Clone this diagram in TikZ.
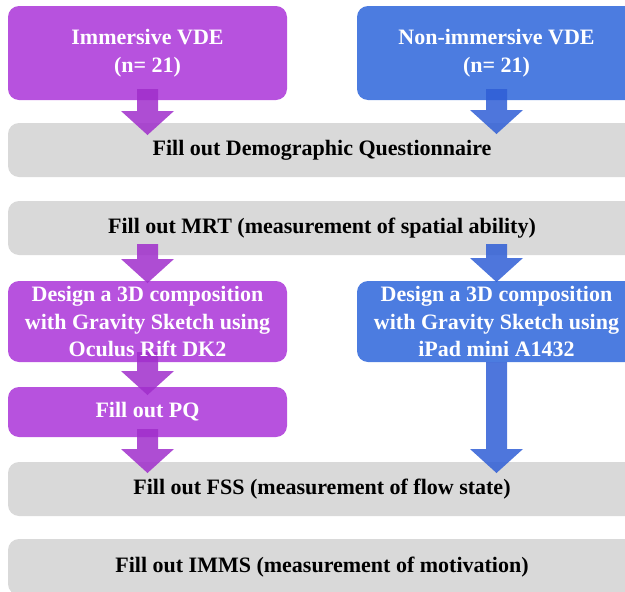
\documentclass[tikz,border=0pt]{standalone}
\usepackage{fontspec}
\setmainfont{Liberation Serif}
\usetikzlibrary{calc}
\pgfdeclarelayer{bg}
\pgfdeclarelayer{mid}
\pgfsetlayers{bg,mid,main}
\definecolor{purp}{HTML}{B752DE}
\definecolor{purparrow}{HTML}{A02ECB}
\definecolor{blu}{HTML}{4C7CE0}
\definecolor{bluarrow}{HTML}{2F5ED6}
\definecolor{graybar}{HTML}{D9D9D9}
\tikzset{
  box/.style={inner sep=0pt, outer sep=0pt, align=center, font=\fontsize{22}{27.5}\selectfont\bfseries},
  colbox/.style={box, text=white, minimum width=279pt},
  graybox/.style={box, text=black, minimum width=628pt},
  parrowstyle/.style={fill=purparrow, fill opacity=0.85},
  barrowstyle/.style={fill=bluarrow, fill opacity=0.85}
}
% #1 source node, #2 target node, #3 column node, #4 style, #5 shaft start inset, #6 tip inset
\newcommand\bigarrow[6]{%
  \fill[#4] let \p1=(#1.south), \p2=(#2.north), \p3=(#3.center) in
    (\x3-10.5pt,\y1+#5) -- (\x3+10.5pt,\y1+#5) -- (\x3+10.5pt,\y2-#6+24pt)
    -- (\x3+26.5pt,\y2-#6+24pt) -- (\x3,\y2-#6) -- (\x3-26.5pt,\y2-#6+24pt)
    -- (\x3-10.5pt,\y2-#6+24pt) -- cycle;}
\begin{document}
\begin{tikzpicture}[x=1pt,y=-1pt]
\useasboundingbox (0,0) rectangle (625,592);
\node[colbox, minimum height=94pt] (imm) at (147.5,53) {Immersive VDE\\(n= 21)};
\node[colbox, minimum height=94pt] (non) at (496.5,53) {Non-immersive VDE\\(n= 21)};
\node[graybox, minimum height=54pt] (demo) at (322,150) {Fill out Demographic Questionnaire};
\node[graybox, minimum height=54pt] (mrt) at (322,228) {Fill out MRT (measurement of spatial ability)};
\node[colbox, minimum height=81pt] (dimm) at (147.5,321.5) {Design a 3D composition\\with Gravity Sketch using\\Oculus Rift DK2};
\node[colbox, minimum height=81pt] (dnon) at (496.5,321.5) {Design a 3D composition\\with Gravity Sketch using\\iPad mini A1432};
\node[colbox, minimum height=50pt] (pq) at (147.5,412) {Fill out PQ};
\node[graybox, minimum height=54pt] (fss) at (322,489) {Fill out FSS (measurement of flow state)};
\node[graybox, minimum height=56pt] (imms) at (322,567) {Fill out IMMS (measurement of motivation)};
\begin{pgfonlayer}{bg}
  \foreach \n/\c in {imm/purp, non/blu, demo/graybar, mrt/graybar, dimm/purp, dnon/blu, pq/purp, fss/graybar, imms/graybar}
    \fill[\c, rounded corners=11pt] (\n.south west) rectangle (\n.north east);
\end{pgfonlayer}
\begin{pgfonlayer}{mid}
  \bigarrow{imm}{demo}{imm}{parrowstyle}{11pt}{12pt}
  \bigarrow{non}{demo}{non}{barrowstyle}{11pt}{11pt}
  \bigarrow{mrt}{dimm}{dimm}{parrowstyle}{11pt}{2pt}
  \bigarrow{mrt}{dnon}{dnon}{barrowstyle}{11pt}{1pt}
  \bigarrow{dimm}{pq}{dimm}{parrowstyle}{10pt}{8pt}
  \bigarrow{dnon}{fss}{dnon}{barrowstyle}{0pt}{11pt}
  \bigarrow{pq}{fss}{pq}{parrowstyle}{8pt}{11pt}
\end{pgfonlayer}
\end{tikzpicture}
\end{document}
